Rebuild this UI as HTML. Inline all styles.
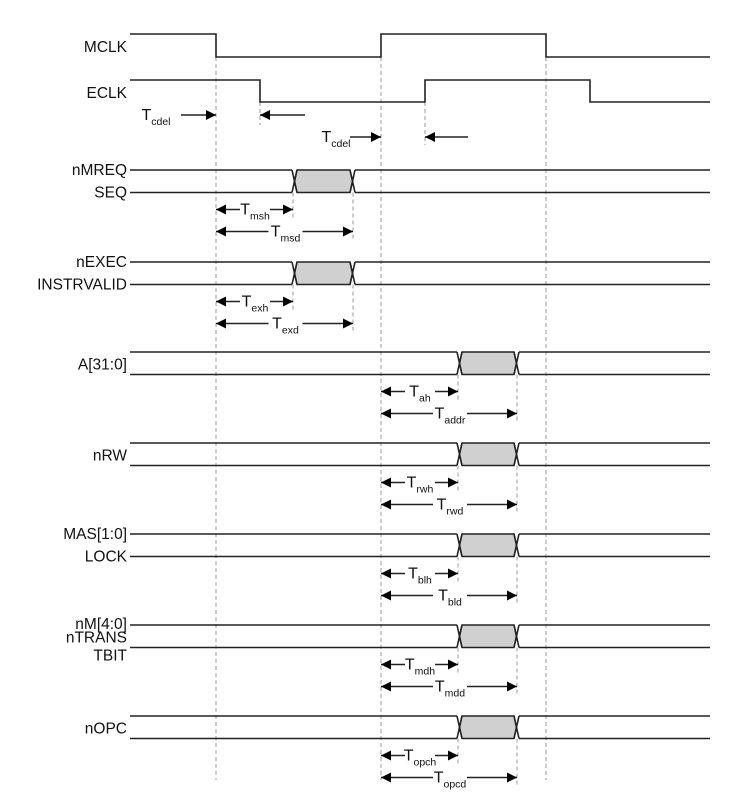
<!DOCTYPE html>
<html><head><meta charset="utf-8"><style>
html,body{margin:0;padding:0;background:#fff;}
svg{display:block;font-family:"Liberation Sans",Arial,sans-serif;}
</style></head><body>
<svg id="c" width="741" height="801" viewBox="0 0 741 801" xmlns="http://www.w3.org/2000/svg">
<defs>
<marker id="ah" viewBox="0 0 10 10" refX="10" refY="5" markerWidth="14" markerHeight="10" markerUnits="userSpaceOnUse" orient="auto-start-reverse"><path d="M0,0L10,5L0,10z" fill="#000"/></marker>
</defs>
</svg>
<script>
const NS='http://www.w3.org/2000/svg';
const svg=document.getElementById('c');
// clock edge times (x positions in diagram units)
const mclkEdges=[216,381,546];
const eclkEdges=[260,425,590];
// bus groups: labels, top-line y, invalid-window start/end
const busLabels=[['nMREQ','SEQ'],['nEXEC','INSTRVALID'],['A[31:0]'],['nRW'],['MAS[1:0]','LOCK'],['nM[4:0]','nTRANS','TBIT'],['nOPC']];
const busTop=[170,262,352,443,534,625,716];
const busStart=[292,292,457,457,457,457,457];
const busEnd=[350,350,514,514,514,514,514];
const busRef=[216,216,381,381,381,381,381];
const holdNames=['msh','exh','ah','rwh','blh','mdh','opch'];
const delayNames=['msd','exd','addr','rwd','bld','mdd','opcd'];
const H=22.5, X0=130, X1=710, LX=127, FS=15.5;
function el(t,a,p){const e=document.createElementNS(NS,t);for(const k in a)e.setAttribute(k,a[k]);(p||svg).appendChild(e);return e;}
function line(x1,y1,x2,y2,name,dash){const l=el('line',{x1,y1,x2,y2,stroke:dash?'#999':'#222','stroke-width':dash?1:1.6,'stroke-dasharray':dash?'4,3':''});

return l;}
function text(x,y,s,anchor,name,size){const t=el('text',{x,y,'font-size':size||FS,'text-anchor':anchor||'start',fill:'#111'});t.textContent=s;

return t;}
function tlabel(x,y,sub,name){const t=el('text',{x,y,'font-size':16,fill:'#111','text-anchor':'middle'});


const a=el('tspan',{},t);a.textContent='T';const b=el('tspan',{dy:5,'font-size':10.5},t);b.textContent=sub;return t;}
function clock(edges,hi,lo,startHigh,name){let pts=[],lvl=startHigh,x=X0;pts.push([x,lvl?hi:lo]);
edges.forEach(e=>{pts.push([e,lvl?hi:lo]);lvl=!lvl;pts.push([e,lvl?hi:lo]);});pts.push([X1,lvl?hi:lo]);
const p=el('polyline',{points:pts.map(q=>q.join(',')).join(' '),fill:'none',stroke:'#222','stroke-width':1.6});

}
// dashed guide lines
mclkEdges.forEach((x,i)=>line(x,57,x,780,'guide-mclk-'+i,true));
line(eclkEdges[0],102,eclkEdges[0],125,'guide-eclk-0',true);
line(eclkEdges[1],102,eclkEdges[1],145,'guide-eclk-1',true);
clock(mclkEdges,34,57,true,'mclk-waveform');
clock(eclkEdges,80,102,true,'eclk-waveform');
text(LX,52,'MCLK','end','mclk-label');
text(LX,98,'ECLK','end','eclk-label');
// Tcdel annotations
tlabel(156,120,'cdel','tcdel-label-1');
let a=line(181,115,216,115,'tcdel-arrow-1');a.setAttribute('marker-end','url(#ah)');
a=line(305,115,260,115,'tcdel-arrow-2');a.setAttribute('marker-end','url(#ah)');
tlabel(336,142,'cdel','tcdel-label-2');
a=line(350,137,381,137,'tcdel-arrow-3');a.setAttribute('marker-end','url(#ah)');
a=line(468,137,425,137,'tcdel-arrow-4');a.setAttribute('marker-end','url(#ah)');
// buses
busLabels.forEach((labs,i)=>{
 const t=busTop[i],b=t+H,m=t+H/2,s=busStart[i],e=busEnd[i],r=busRef[i];
 const g=el('polygon',{points:`${s+2.5},${m} ${s+5},${t} ${e},${t} ${e+2.5},${m} ${e},${b} ${s+5},${b}`,fill:'#d0d0d0',stroke:'#222','stroke-width':1.4});
 
 
 [t,b].forEach((y,k)=>{line(X0,y,s,y,'bus-'+i+'-line-a'+k);line(e+5,y,X1,y,'bus-'+i+'-line-b'+k);});
 line(s,t,s+5,b,'bus-'+i+'-cross-a1');line(s,b,s+5,t,'bus-'+i+'-cross-a2');
 line(e,t,e+5,b,'bus-'+i+'-cross-b1');line(e,b,e+5,t,'bus-'+i+'-cross-b2');
 // labels
 if(labs.length===1) text(LX,m+6,labs[0],'end','bus-label-'+i);
 else if(labs.length===2){text(LX,t+5,labs[0],'end','bus-label-'+i+'-0');text(LX,b+5,labs[1],'end','bus-label-'+i+'-1');}
 else {text(LX,t+4,labs[0],'end','bus-label-'+i+'-0');text(LX,m+6,labs[1],'end','bus-label-'+i+'-1');text(LX,b+13,labs[2],'end','bus-label-'+i+'-2');}
 // hold/delay guides
 const hy=t+H+17, dy=hy+22;
 line(s+1,b,s+1,hy+8,'hold-guide-'+i,true);
 line(e+3,b,e+3,dy+8,'delay-guide-'+i,true);
 const hc=(r+s)/2;
 a=line(hc-14,hy,r,hy,'hold-arrow-left-'+i);a.setAttribute('marker-end','url(#ah)');
 a=line(hc+16,hy,s+1,hy,'hold-arrow-right-'+i);a.setAttribute('marker-end','url(#ah)');
 tlabel(hc+1,hy+5,holdNames[i],'hold-label-'+i);
 const dc=(r+e+3)/2;
 a=line(dc-16,dy,r,dy,'delay-arrow-left-'+i);a.setAttribute('marker-end','url(#ah)');
 a=line(dc+18,dy,e+3,dy,'delay-arrow-right-'+i);a.setAttribute('marker-end','url(#ah)');
 tlabel(dc+1,dy+5,delayNames[i],'delay-label-'+i);
});
</script>
</body></html>
